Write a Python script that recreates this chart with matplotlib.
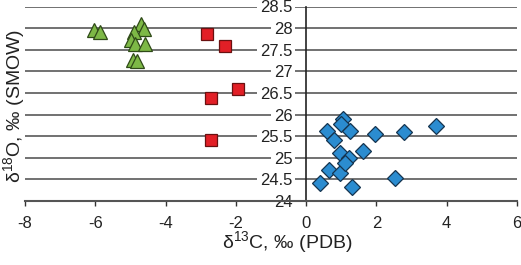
import matplotlib
matplotlib.use("Agg")
import matplotlib.pyplot as plt

plt.rcParams['font.family'] = ['Liberation Sans', 'DejaVu Sans']
plt.rcParams['mathtext.fontset'] = 'custom'
plt.rcParams['mathtext.rm'] = 'Liberation Sans'
plt.rcParams['mathtext.default'] = 'regular'

# Green triangles
tri_x = [-6.03, -5.86, -4.70, -4.61, -4.91, -4.99, -4.86, -4.58, -4.93, -4.82]
tri_y = [27.96, 27.90, 28.10, 27.97, 27.90, 27.73, 27.64, 27.64, 27.26, 27.24]
# Red squares
sq_x = [-2.81, -2.30, -1.93, -2.70, -2.71]
sq_y = [27.86, 27.59, 26.59, 26.38, 25.40]
# Blue diamonds
dia_x = [0.40, 0.66, 0.97, 1.30, 2.54, 0.59, 0.80, 1.06, 1.00, 1.25,
         0.97, 1.21, 1.11, 1.61, 1.95, 2.79, 3.69]
dia_y = [24.41, 24.72, 24.64, 24.32, 24.54, 25.62, 25.41, 25.89, 25.78, 25.62,
         25.10, 24.99, 24.87, 25.16, 25.55, 25.59, 25.74]

xticks = [-8, -6, -4, -2, 0, 2, 4, 6]
yticks = [24, 24.5, 25, 25.5, 26, 26.5, 27, 27.5, 28, 28.5]
ytick_labels = ['24', '24.5', '25', '25.5', '26', '26.5', '27', '27.5', '28', '28.5']

fig = plt.figure(figsize=(5.21, 2.65), dpi=100)
ax = fig.add_axes([25/521, 1 - 201/265, 492/521, 194.5/265])

ax.set_xlim(-8, 6)
ax.set_ylim(24, 28.5)

gc = '#4a4a4a'
for s in ['top', 'right']:
    ax.spines[s].set_visible(False)
ax.spines['left'].set_position(('data', 0))
ax.spines['left'].set_color('#222222')
ax.spines['left'].set_linewidth(1.2)
ax.spines['bottom'].set_color('#555555')
ax.spines['bottom'].set_linewidth(1.5)

ax.set_xticks(xticks)
ax.set_xticklabels([str(v) for v in xticks])
ax.set_yticks(yticks)
ax.set_yticklabels(ytick_labels)
ax.yaxis.grid(True, color=gc, linewidth=1.1)
ax.tick_params(axis='y', length=0, pad=10, labelsize=12, labelcolor='#222222')
ax.tick_params(axis='x', length=3.5, width=1.0, color='#333333', pad=7,
               labelsize=12, labelcolor='#222222')
for lbl in ax.get_yticklabels():
    lbl.set_bbox(dict(facecolor='white', edgecolor='none', pad=2))

ax.plot(tri_x, tri_y, linestyle='none', marker='^', markersize=10,
        markerfacecolor='#7DB846', markeredgecolor='#2f4a18', markeredgewidth=0.9)
ax.plot(sq_x, sq_y, linestyle='none', marker='s', markersize=8.2,
        markerfacecolor='#E21F26', markeredgecolor='#6a1010', markeredgewidth=0.9)
ax.plot(dia_x, dia_y, linestyle='none', marker='D', markersize=8.0,
        markerfacecolor='#2B8CD0', markeredgecolor='#15344f', markeredgewidth=0.9)

fig.text(287/521, 1 - 242/265, r'δ$^{13}$C, ‰ (PDB)', ha='center', va='center',
         fontsize=14, color='#222222')
fig.text(14/521, 1 - 106/265, r'δ$^{18}$O, ‰ (SMOW)', ha='center', va='center',
         rotation=90, fontsize=14, color='#222222')

fig.savefig('out.png', dpi=100)
